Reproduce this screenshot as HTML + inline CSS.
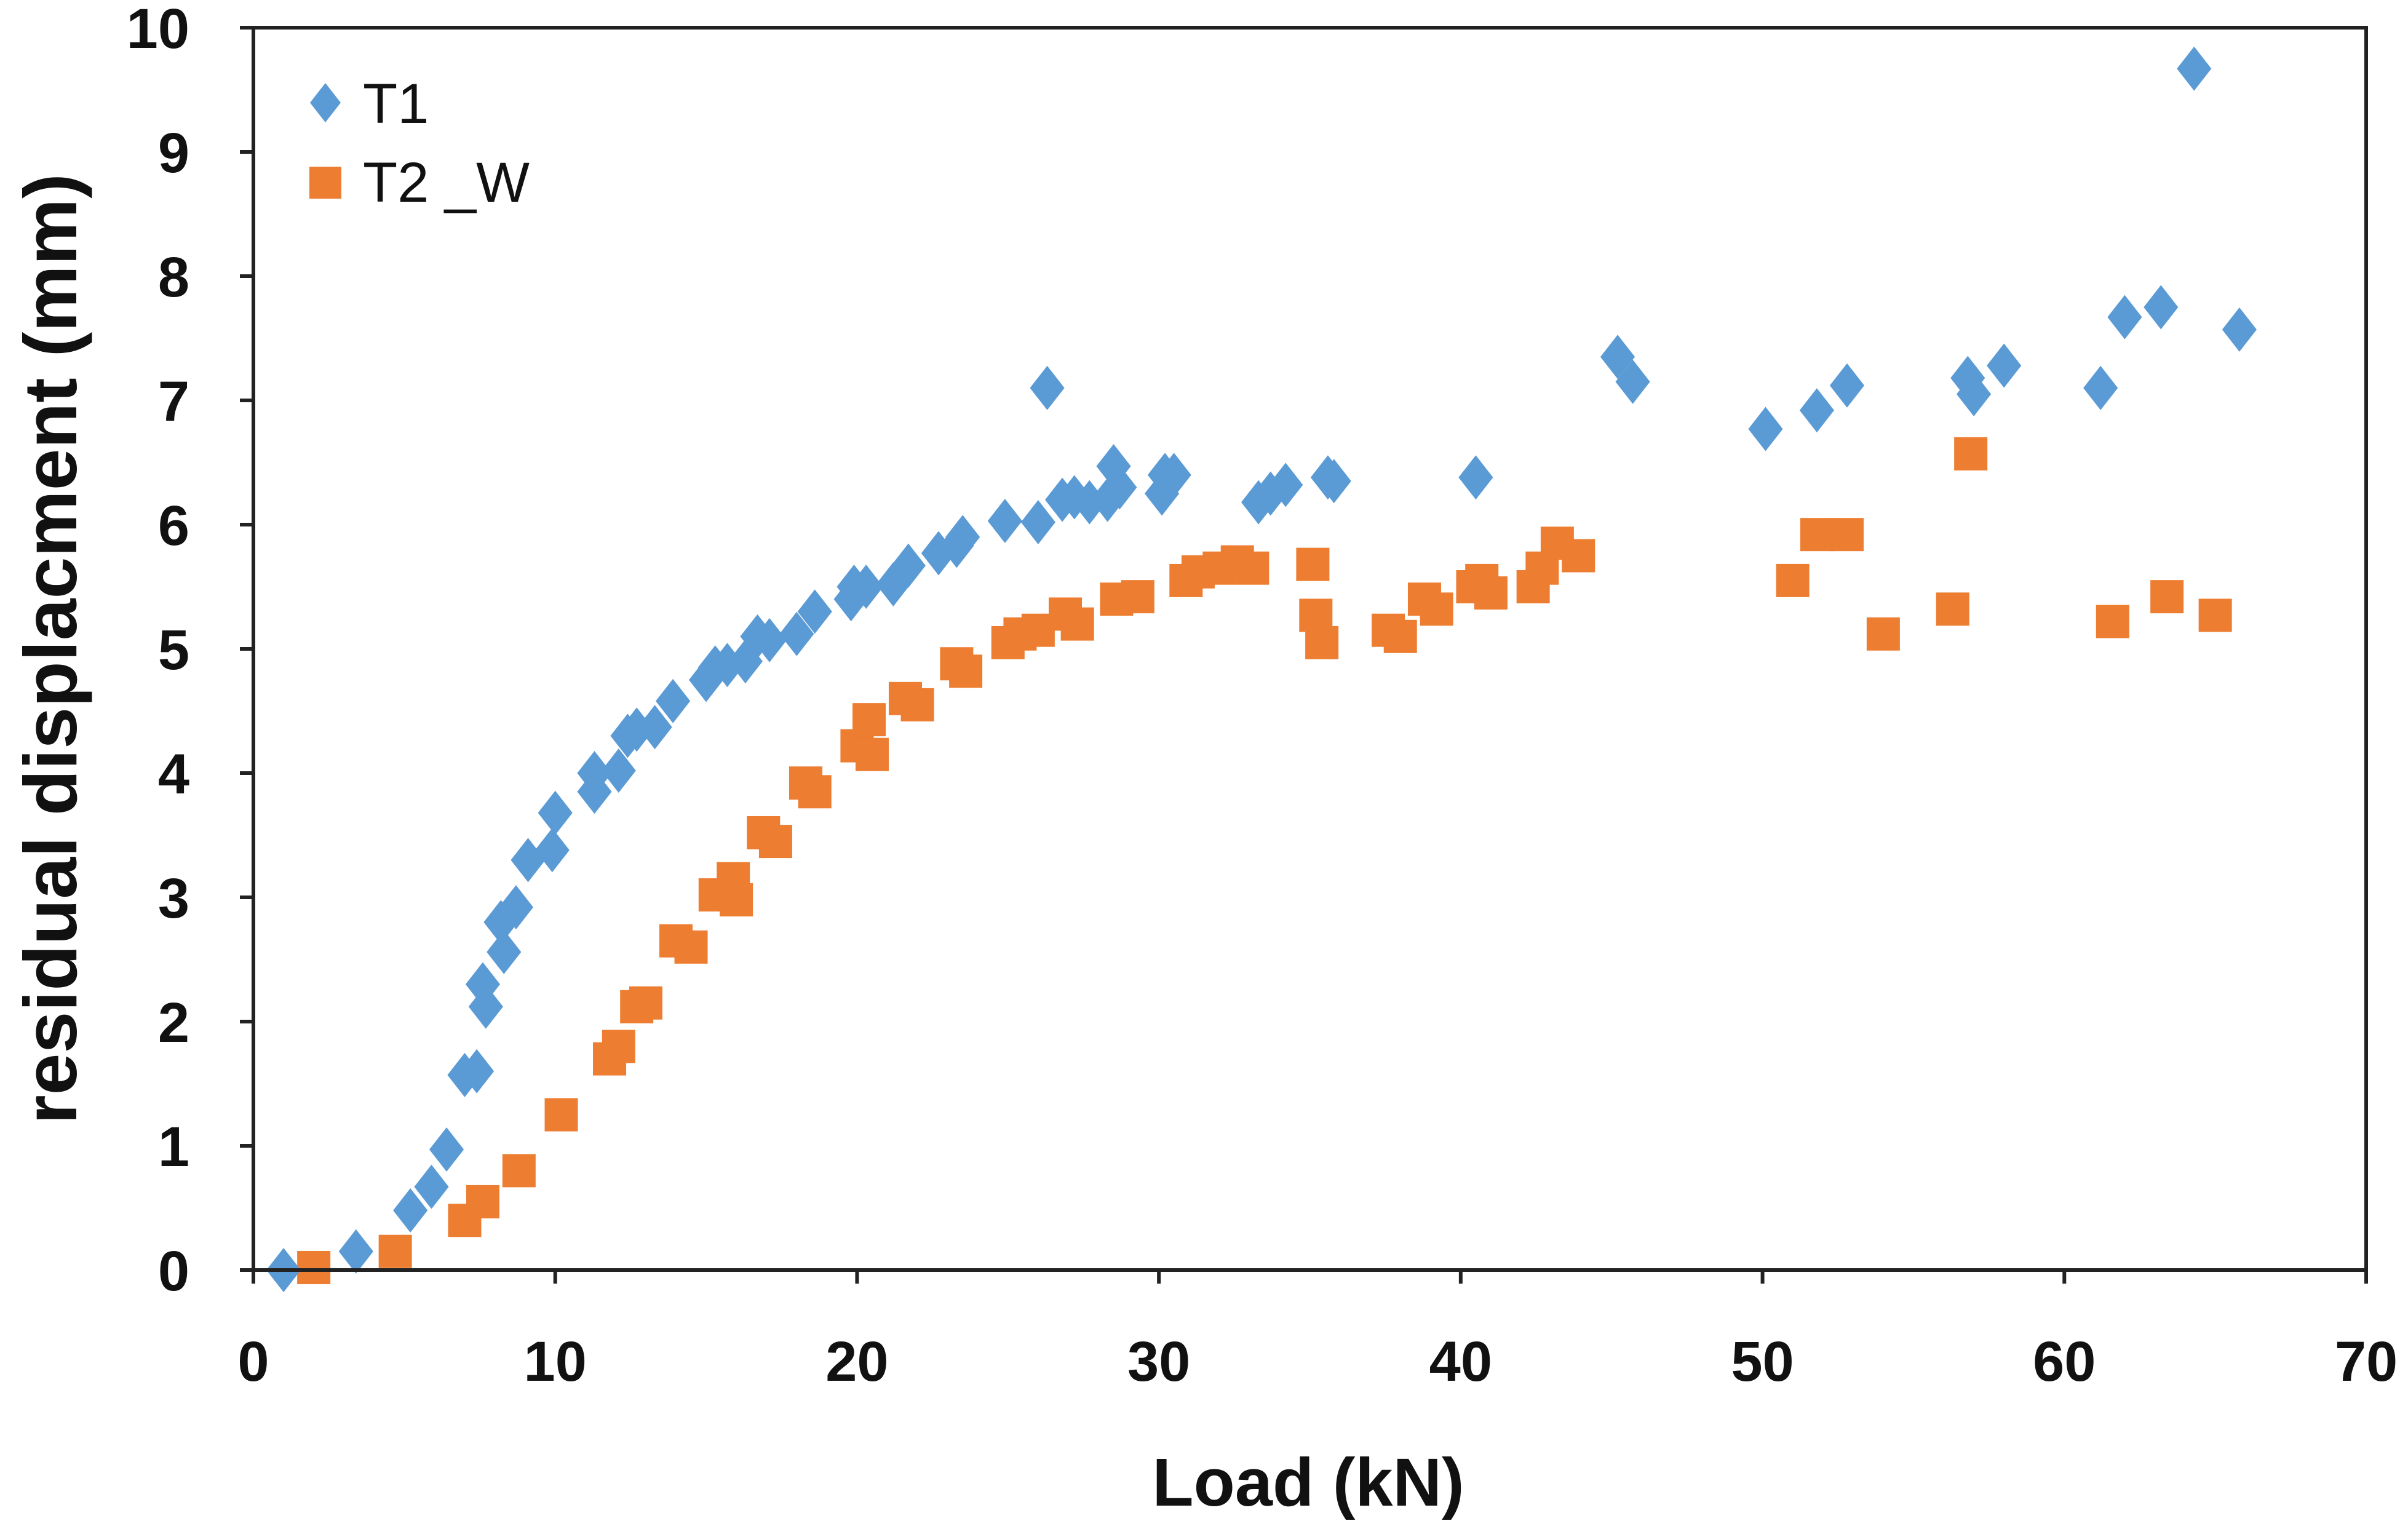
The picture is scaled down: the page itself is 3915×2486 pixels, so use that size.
<!DOCTYPE html>
<html><head><meta charset="utf-8"><style>
html,body{margin:0;padding:0;background:#fff;}
svg text{font-family:"Liberation Sans",sans-serif;}
</style></head><body>
<svg id="chart" width="3915" height="2481" xmlns="http://www.w3.org/2000/svg">
<g id="grid"></g>
<g id="marks"></g>
<g id="axes"></g>
</svg>
<script>
const xTicks=[0,10,20,30,40,50,60,70];
const yTicks=[0,1,2,3,4,5,6,7,8,9,10];
const t1X=[1.0,3.4,5.2,5.9,6.4,7.0,7.4,7.6,7.7,8.2,8.3,8.7,9.1,9.9,10.0,11.3,11.3,12.1,12.4,12.7,13.3,13.9,15.0,15.3,15.7,16.3,16.7,17.1,18.0,18.6,19.8,19.9,20.3,21.2,21.7,22.7,23.3,23.5,24.9,26.0,26.3,26.8,27.2,27.7,28.3,28.5,28.7,30.1,30.2,30.5,33.3,33.7,34.2,35.6,35.8,40.5,45.2,45.7,50.1,51.8,52.8,56.8,57.0,58.0,61.2,62.0,63.2,64.3,65.8];
const t1Y=[0,0.15,0.48,0.67,0.97,1.57,1.6,2.3,2.12,2.8,2.56,2.92,3.3,3.38,3.68,3.85,4.0,4.02,4.3,4.35,4.37,4.58,4.75,4.85,4.87,4.9,5.1,5.07,5.12,5.3,5.4,5.5,5.5,5.52,5.67,5.77,5.83,5.9,6.03,6.02,7.1,6.2,6.22,6.18,6.2,6.47,6.3,6.25,6.4,6.4,6.18,6.25,6.32,6.38,6.35,6.38,7.35,7.15,6.77,6.92,7.12,7.18,7.05,7.28,7.1,7.67,7.75,9.67,7.57];
const t2X=[2.0,4.7,7.0,7.6,8.8,10.2,11.8,12.1,12.7,13.0,14.0,14.5,15.3,15.9,16.0,16.9,17.3,18.3,18.6,20.0,20.4,20.5,21.6,22.0,23.3,23.6,25.0,25.4,26.0,26.9,27.3,28.6,29.3,30.9,31.3,32.0,32.6,33.1,35.1,35.2,35.4,37.6,38.0,38.8,39.2,40.4,40.7,41.0,42.4,42.7,43.2,43.9,51.0,51.8,52.8,54.0,56.3,56.9,61.6,63.4,65.0];
const t2Y=[0.02,0.15,0.4,0.55,0.8,1.25,1.7,1.8,2.12,2.15,2.65,2.6,3.02,3.15,2.98,3.52,3.45,3.92,3.85,4.22,4.43,4.15,4.6,4.55,4.88,4.82,5.05,5.12,5.15,5.28,5.2,5.4,5.42,5.55,5.62,5.65,5.7,5.65,5.68,5.27,5.05,5.15,5.1,5.4,5.32,5.5,5.55,5.45,5.5,5.65,5.85,5.75,5.55,5.92,5.92,5.12,5.32,6.57,5.22,5.42,5.27];

const X0=412,X1=3847,Y0=2065,Y1=45;
const sx=v=>X0+(v-0)/(70-0)*(X1-X0);
const sy=v=>Y0-(v-0)/(10-0)*(Y0-Y1);
const NS="http://www.w3.org/2000/svg";
function mk(tag,attrs,parent){const e=document.createElementNS(NS,tag);for(const k in attrs)e.setAttribute(k,attrs[k]);parent.appendChild(e);return e;}
const axes=document.getElementById('axes'),marks=document.getElementById('marks');

let r=mk('rect',{x:X0,y:Y1,width:X1-X0,height:Y0-Y1,fill:'none',stroke:'#222','stroke-width':6},axes);



xTicks.forEach(t=>{
  const l=mk('line',{x1:sx(t),x2:sx(t),y1:Y0,y2:Y0+22,stroke:'#222','stroke-width':6},axes);
  
  
  const tx=mk('text',{x:sx(t),y:Y0+180,'text-anchor':'middle','font-size':92,'font-weight':'bold',fill:'#111'},axes);
  tx.textContent=t;
  
  
});
yTicks.forEach(t=>{
  const l=mk('line',{x1:X0-22,x2:X0,y1:sy(t),y2:sy(t),stroke:'#222','stroke-width':6},axes);
  
  
  const tx=mk('text',{x:308,y:sy(t)+33,'text-anchor':'end','font-size':92,'font-weight':'bold',fill:'#111'},axes);
  tx.textContent=t;
  
  
});

let xt=mk('text',{x:2127,y:2448,'text-anchor':'middle','font-size':110,'font-weight':'bold',fill:'#111'},axes);
xt.textContent='Load (kN)';


let yt=mk('text',{x:0,y:0,'text-anchor':'middle','font-size':122,'font-weight':'bold',fill:'#111',transform:'translate(124,1055) rotate(-90)'},axes);
yt.textContent='residual displacment (mm)';



function diamond(cx,cy,s,parent){return mk('polygon',{points:`${cx},${cy-s} ${cx+s*0.78},${cy} ${cx},${cy+s} ${cx-s*0.78},${cy}`,fill:'#5b9bd5'},parent);}
function square(cx,cy,s,parent){return mk('rect',{x:cx-s,y:cy-s,width:2*s,height:2*s,fill:'#ed7d31'},parent);}

t2X.forEach((x,i)=>{
  const m=square(sx(x),sy(t2Y[i]),27,marks);
  
  
});
t1X.forEach((x,i)=>{
  const m=diamond(sx(x),sy(t1Y[i]),36,marks);
  
  
});

const leg=mk('g',{},axes);


let d=diamond(529,167,32,leg);


let l1=mk('text',{x:590,y:200,'font-size':92,fill:'#111'},leg);
l1.textContent='T1';


let s=square(529,297,26,leg);


let l2=mk('text',{x:590,y:328,'font-size':92,fill:'#111'},leg);
l2.textContent='T2 _W';


</script>
</body></html>
